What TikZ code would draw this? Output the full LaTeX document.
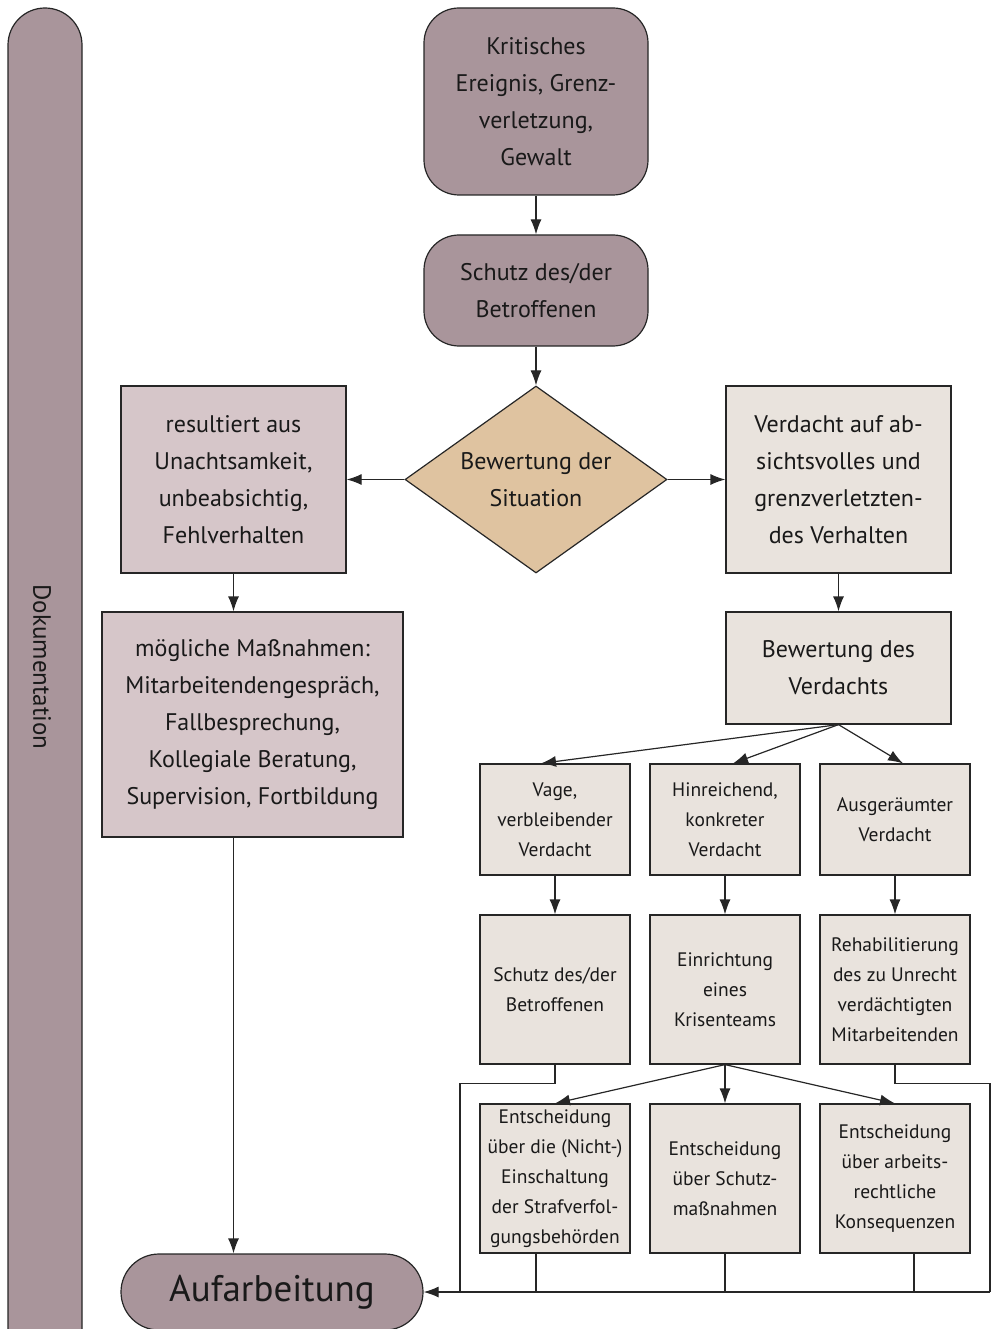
\documentclass[tikz,border=0pt]{standalone}
\usepackage{fontspec}
\setmainfont{PT Sans}
\usetikzlibrary{shapes.geometric,arrows.meta,calc}
\definecolor{mauve}{HTML}{A9959B}
\definecolor{pinkbox}{HTML}{D6C6C9}
\definecolor{lightbox}{HTML}{E9E3DD}
\definecolor{tan}{HTML}{DFC3A0}
\definecolor{edge}{HTML}{262626}
\tikzset{
  base/.style={draw=edge, line width=1.2pt, align=center, inner sep=0pt, text=black!90},
  bigtxt/.style={font=\fontsize{24}{37}\selectfont},
  smalltxt/.style={font=\fontsize{19.5}{30}\selectfont},
  pill/.style={base, bigtxt, fill=mauve, rounded corners=35pt},
  pinkrect/.style={base, bigtxt, fill=pinkbox},
  lightrect/.style={base, bigtxt, fill=lightbox},
  smallrect/.style={base, smalltxt, fill=lightbox, minimum width=150pt},
  arr/.style={draw=edge, line width=1.2pt, -{Latex[length=15pt,width=11pt]}},
  ln/.style={draw=edge, line width=1.2pt},
}
\begin{document}
\begin{tikzpicture}[x=1pt,y=-1pt]
\useasboundingbox (0,0) rectangle (992,1329);
% documentation bar
\begin{scope}
\clip (0,0) rectangle (992,1329);
\draw[fill=mauve, draw=edge, line width=1.2pt, rounded corners=37pt] (8,8) rectangle (82,1370);
\end{scope}
\node[rotate=-90, font=\fontsize{25}{28}\selectfont, text=black!90] (doku) at (42,667) {Dokumentation};

\node[pill, minimum width=224pt, minimum height=187pt] (k) at (536,101.5)
  {Kritisches\\Ereignis, Grenz-\\verletzung,\\Gewalt};
\node[pill, minimum width=224pt, minimum height=111pt] (s1) at (536,290.5)
  {Schutz des/der\\Betroffenen};
\node[base, bigtxt, shape=diamond, aspect=1.4, fill=tan, minimum width=262pt, minimum height=187pt] (d) at (536,479.5)
  {Bewertung der\\Situation};
\node[pinkrect, minimum width=225pt, minimum height=187pt] (l) at (233.5,479.5)
  {resultiert aus\\Unachtsamkeit,\\unbeabsichtig,\\Fehlverhalten};
\node[lightrect, minimum width=225pt, minimum height=187pt] (r) at (838.5,479.5)
  {Verdacht auf ab-\\sichtsvolles und\\grenzverletzten-\\des Verhalten};
\node[pinkrect, minimum width=301pt, minimum height=225pt] (m) at (252.5,724.5)
  {mögliche Maßnahmen:\\Mitarbeitendengespräch,\\Fallbesprechung,\\Kollegiale Beratung,\\Supervision, Fortbildung};
\node[lightrect, minimum width=225pt, minimum height=112pt] (bv) at (838.5,668)
  {Bewertung des\\Verdachts};

\node[smallrect, minimum height=111pt] (v1) at (555,819.5) {Vage,\\verbleibender\\Verdacht};
\node[smallrect, minimum height=111pt] (v2) at (725,819.5) {Hinreichend,\\konkreter\\Verdacht};
\node[smallrect, minimum height=111pt] (v3) at (895,819.5) {Ausgeräumter\\Verdacht};

\node[smallrect, minimum height=149pt] (a1) at (555,989.5) {Schutz des/der\\Betroffenen};
\node[smallrect, minimum height=149pt] (a2) at (725,989.5) {Einrichtung\\eines\\Krisenteams};
\node[smallrect, minimum height=149pt] (a3) at (895,989.5) {Rehabilitierung\\des zu Unrecht\\verdächtigten\\Mitarbeitenden};

\node[smallrect, minimum height=149pt] (e1) at (555,1178.5) {Entscheidung\\über die (Nicht-)\\Einschaltung\\der Strafverfol-\\gungsbehörden};
\node[smallrect, minimum height=149pt] (e2) at (725,1178.5) {Entscheidung\\über Schutz-\\maßnahmen};
\node[smallrect, minimum height=149pt] (e3) at (895,1178.5) {Entscheidung\\über arbeits-\\rechtliche\\Konsequenzen};

\node[base, fill=mauve, rounded corners=38pt, minimum width=302pt, minimum height=76pt,
  font=\fontsize{37}{40}\selectfont] (auf) at (272,1292) {Aufarbeitung};

\coordinate (cL) at (460,1292);
\coordinate (cR) at (990,1292);

% connectors
\draw[arr] (k) -- (s1);
\draw[arr] (s1) -- (d);
\draw[arr] (d.west) -- (l.east);
\draw[arr] (d.east) -- (r.west);
\draw[arr] (l.south) -- (l.south |- m.north);
\draw[arr] (r) -- (bv);
\draw[arr] (bv.south) -- ([xshift=-14pt]v1.north);
\draw[arr] (bv.south) -- ([xshift=8pt]v2.north);
\draw[arr] (bv.south) -- ([xshift=8pt]v3.north);
\draw[arr] (v1) -- (a1);
\draw[arr] (v2) -- (a2);
\draw[arr] (v3) -- (a3);
\draw[arr] (a2.south) -- (e1.north);
\draw[arr] (a2.south) -- (e2.north);
\draw[arr] (a2.south) -- (e3.north);
\draw[arr] (m.south -| l.south) -- (l.south |- auf.north);
\draw[ln] (a1.south) -- ++(0,19) -| (cL);
\draw[ln] (a3.south) -- ++(0,19) -| (cR);
\draw[ln] ([xshift=-19pt]e1.south) -- ([xshift=-19pt]e1.south |- cR);
\draw[ln] (e2.south) -- (e2.south |- cR);
\draw[ln] ([xshift=19pt]e3.south) -- ([xshift=19pt]e3.south |- cR);
\draw[arr] (cR) -- (auf.east);
\end{tikzpicture}
\end{document}
